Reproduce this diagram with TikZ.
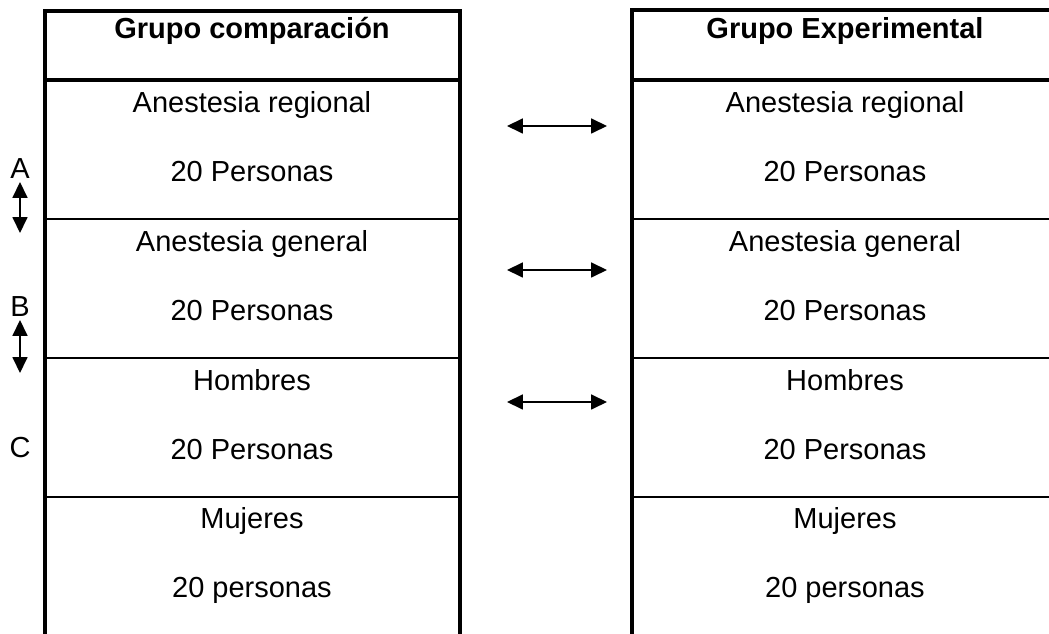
\documentclass[tikz,border=0pt]{standalone}
\usepackage{fontspec}
\setmainfont{Liberation Sans}
\usepackage{tikz}
\usetikzlibrary{arrows.meta}
\tikzset{
  celltext/.style={anchor=base,inner sep=0pt,font=\fontsize{16.5}{20}\selectfont},
  headtext/.style={celltext,font=\fontsize{16.5}{20}\selectfont\bfseries},
  frame/.style={line width=2.2pt},
  headline/.style={line width=1.8pt},
  rowline/.style={line width=1.2pt},
  pairarrow/.style={line width=0.8pt,{Triangle[length=9pt,width=8.5pt]}-{Triangle[length=9pt,width=8.5pt]}},
}

\begin{document}
\begin{tikzpicture}[x=0.02cm,y=-0.02cm]
\useasboundingbox (0,0) rectangle (1049,634);
% left table
\draw[frame] (45,634) -- (45,11) -- (460,11) -- (460,634);
\draw[headline] (45,80) -- (460,80);
\draw[rowline] (45,219) -- (460,219) (45,358) -- (460,358) (45,497) -- (460,497);
\node[headtext] (hcomp) at (252,39) {Grupo comparación};
\node[celltext] (creg) at (252,113) {Anestesia regional};
\node[celltext] (cregn) at (252,182) {20 Personas};
\node[celltext] (cgen) at (252,252) {Anestesia general};
\node[celltext] (cgenn) at (252,321) {20 Personas};
\node[celltext] (chom) at (252,391) {Hombres};
\node[celltext] (chomn) at (252,460) {20 Personas};
\node[celltext] (cmuj) at (252,529) {Mujeres};
\node[celltext] (cmujn) at (252,598) {20 personas};
% right table
\draw[frame] (632,634) -- (632,10) -- (1049,10);
\draw[headline] (632,80) -- (1049,80);
\draw[rowline] (632,219) -- (1049,219) (632,358) -- (1049,358) (632,497) -- (1049,497);
\node[headtext] (hexp) at (845,39) {Grupo Experimental};
\node[celltext] (ereg) at (845,113) {Anestesia regional};
\node[celltext] (eregn) at (845,182) {20 Personas};
\node[celltext] (egen) at (845,252) {Anestesia general};
\node[celltext] (egenn) at (845,321) {20 Personas};
\node[celltext] (ehom) at (845,391) {Hombres};
\node[celltext] (ehomn) at (845,460) {20 Personas};
\node[celltext] (emuj) at (845,529) {Mujeres};
\node[celltext] (emujn) at (845,598) {20 personas};
% side labels
\node[celltext] (la) at (20,179) {A};
\node[celltext] (lb) at (20,317) {B};
\node[celltext] (lc) at (20,458) {C};
\coordinate (a1) at (20,182); \coordinate (a2) at (20,233);
\coordinate (b1) at (20,320); \coordinate (b2) at (20,373);
\draw[pairarrow] (a1) -- (a2);
\draw[pairarrow] (b1) -- (b2);
% arrows between groups
\coordinate (p1) at (507,126); \coordinate (q1) at (607,126);
\coordinate (p2) at (507,270); \coordinate (q2) at (607,270);
\coordinate (p3) at (507,402); \coordinate (q3) at (607,402);
\draw[pairarrow] (p1) -- (q1);
\draw[pairarrow] (p2) -- (q2);
\draw[pairarrow] (p3) -- (q3);
\end{tikzpicture}
\end{document}
